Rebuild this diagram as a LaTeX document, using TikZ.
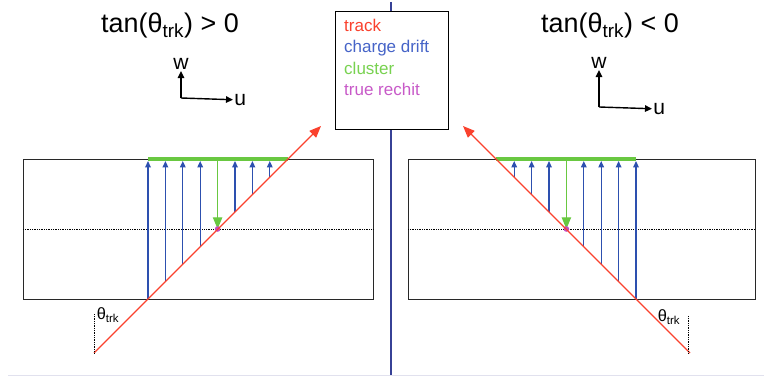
\documentclass[tikz,border=0pt]{standalone}
\usepackage{fontspec}
\setmainfont{Liberation Sans}
\usetikzlibrary{positioning, arrows.meta}

\definecolor{trkred}{RGB}{250,65,45}
\definecolor{driftblue}{RGB}{45,80,175}
\definecolor{clugreen}{RGB}{105,200,65}
\definecolor{hitpink}{RGB}{195,75,195}
\definecolor{midblue}{RGB}{55,65,150}
\definecolor{legblue}{RGB}{70,100,200}
\definecolor{leggreen}{RGB}{120,210,80}
\definecolor{legpink}{RGB}{200,90,200}
\definecolor{edgegrey}{RGB}{225,225,238}

\begin{document}
\begin{tikzpicture}[x=0.03cm, y=-0.03cm,
  track/.style={draw=trkred, line width=1pt, -{Triangle[length=10pt,width=8pt]}},
  drift/.style={draw=driftblue, line width=1.1pt, -{Triangle[length=5.5pt,width=4.8pt]}},
  clusterbar/.style={draw=clugreen, line width=3.6pt},
  clusterdrop/.style={draw=clugreen, line width=1.1pt, -{Triangle[length=10pt,width=8pt]}},
  axis/.style={draw=black, line width=1.2pt, -{Triangle[length=6pt,width=5.5pt]}},
  sensor/.style={draw={rgb,255:red,40;green,40;blue,40}, line width=0.8pt},
  midplane/.style={draw=black, line width=0.5pt, densely dotted},
  titletxt/.style={font=\fontsize{23}{26}\selectfont, anchor=base, inner sep=0pt},
  axlabel/.style={font=\fontsize{18}{20}\selectfont, inner sep=1pt},
  anglabel/.style={font=\fontsize{14}{16}\selectfont, inner sep=0pt},
  legtxt/.style={font=\fontsize{14.5}{16}\selectfont, anchor=base west, inner sep=0pt}]

\useasboundingbox (0,0) rectangle (764,376);

% divider and legend
\draw[midblue, line width=0.9pt] (391,2) -- (391,376);
\draw[edgegrey, line width=0.6pt] (8,375) -- (764,375);
\node[draw, fill=white, line width=0.9pt, minimum width=3.39cm, minimum height=3.54cm,
      anchor=north west, inner sep=0pt] (legend) at (335,11) {};
\node[legtxt, text=trkred]    (legtrk)  at (344,32) {track};
\node[legtxt, text=legblue]   (legdrift) at (344,53) {charge drift};
\node[legtxt, text=leggreen]  (legclu)  at (344,75) {cluster};
\node[legtxt, text=legpink]   (leghit)  at (344,96) {true rechit};

% ---- left: tan > 0
\node[titletxt] (titleL) at (170,33) {tan(θ\textsubscript{trk}) > 0};
\coordinate (oL) at (181,98);
\node[axlabel] (wL) at (181,64) {w};
\node[axlabel, anchor=west] (uL) at (233,100) {u};
\draw[axis] (oL) -- (wL);
\draw[axis] (oL) -- (uL);

\draw[sensor] (23,159) rectangle (373,299);
\draw[midplane] (23,229) -- (373,229);
\foreach \k in {0,1,2,3,5,6,7}
  \draw[drift] ({148+17.4*\k},{299-17.4*\k}) -- ({148+17.4*\k},161);
\draw[clusterbar] (148,159) -- (288,159);
\coordinate (hitL) at (217.6,229);
\draw[clusterdrop] (217.6,159) -- (hitL);
\fill[hitpink] (hitL) circle (2.8);

\coordinate (trkL0) at (94,353);
\coordinate (trkL1) at (321,126);
\draw[track] (trkL0) -- (trkL1);
\draw[midplane] (94,314) -- (trkL0);
\node[anglabel] (angL) at (108,315) {θ\textsubscript{trk}};

% ---- right: tan < 0
\node[titletxt] (titleR) at (610,33) {tan(θ\textsubscript{trk}) < 0};
\coordinate (oR) at (599,107);
\node[axlabel] (wR) at (599,63) {w};
\node[axlabel, anchor=west] (uR) at (652,109) {u};
\draw[axis] (oR) -- (wR);
\draw[axis] (oR) -- (uR);

\draw[sensor] (408,159) rectangle (755,299);
\draw[midplane] (408,229) -- (755,229);
\foreach \k in {0,1,2,3,5,6,7}
  \draw[drift] ({636-17.4*\k},{299-17.4*\k}) -- ({636-17.4*\k},161);
\draw[clusterbar] (496,159) -- (636,159);
\coordinate (hitR) at (566.4,229);
\draw[clusterdrop] (566.4,159) -- (hitR);
\fill[hitpink] (hitR) circle (2.8);

\coordinate (trkR0) at (690,353);
\coordinate (trkR1) at (463,126);
\draw[track] (trkR0) -- (trkR1);
\draw[midplane] (688,316) -- (688,353);
\node[anglabel] (angR) at (669,317) {θ\textsubscript{trk}};
\end{tikzpicture}
\end{document}
